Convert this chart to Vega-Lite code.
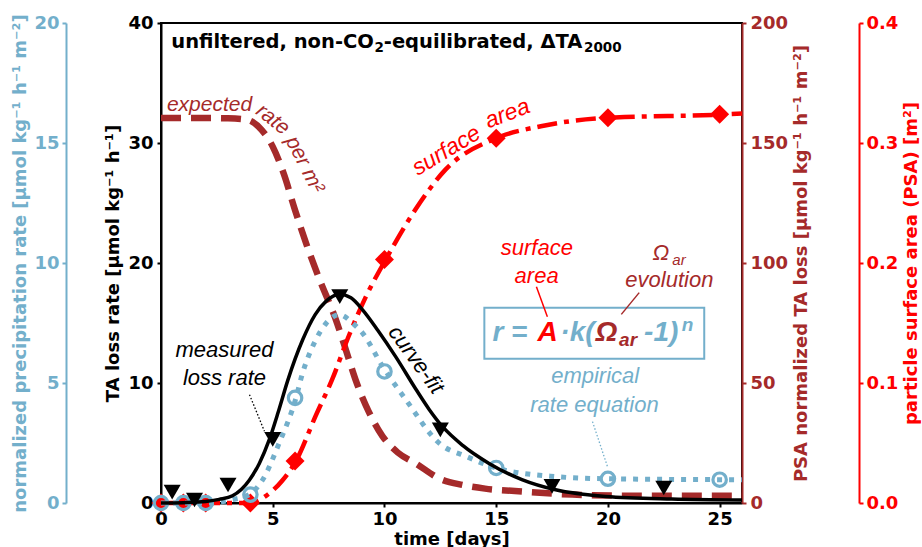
{
  "$schema": "https://vega.github.io/schema/vega-lite/v6.json",
  "width": 581,
  "height": 480,
  "autosize": {"type": "none"},
  "padding": {"left": 161, "top": 23, "right": 180, "bottom": 44},
  "config": {
    "view": {"stroke": "black", "strokeWidth": 2},
    "axis": {
      "grid": false, "labelFont": "DejaVu Sans", "labelFontWeight": "bold", "labelFontSize": 18,
      "titleFont": "DejaVu Sans", "titleFontWeight": "bold", "titleFontSize": 18,
      "tickSize": 4, "tickWidth": 2, "domainWidth": 2, "labelPadding": 3, "labelFlush": false,
      "domainColor": "black", "tickColor": "black", "labelColor": "black", "titleColor": "black"
    }
  },
  "encoding": {
    "x": {"field": "day", "type": "quantitative", "scale": {"domain": [0, 26], "nice": false},
      "axis": {"title": "time [days]", "values": [0, 5, 10, 15, 20, 25], "titlePadding": 2, "labelPadding": 3}}
  },
  "resolve": {"scale": {"y": "independent"}},
  "layer": [
    {
      "encoding": {
        "y": {"field": "p", "type": "quantitative", "scale": {"domain": [0, 200], "nice": false},
          "axis": {"orient": "right", "offset": 0, "title": "PSA normalized TA loss [µmol kg⁻¹ h⁻¹ m⁻²]",
            "values": [0, 50, 100, 150, 200], "titleAngle": 270, "titleBaseline": "top", "titlePadding": 5, "labelPadding": 4,
            "domainColor": "#A52A2A", "tickColor": "#A52A2A", "labelColor": "#A52A2A", "titleColor": "#A52A2A"}}
      },
      "layer": [
        {
          "data": {"values": [
            {"day": 0, "p": 160.4}, {"day": 1, "p": 160.4}, {"day": 2, "p": 160.4}, {"day": 3, "p": 160.3},
            {"day": 3.8, "p": 159.8}, {"day": 4.5, "p": 155.5}, {"day": 5.0, "p": 148.5}, {"day": 5.5, "p": 137},
            {"day": 6.0, "p": 122}, {"day": 6.5, "p": 108}, {"day": 7.1, "p": 93}, {"day": 7.8, "p": 77},
            {"day": 8.3, "p": 63}, {"day": 8.7, "p": 51.5}, {"day": 9.3, "p": 38}, {"day": 9.9, "p": 28},
            {"day": 10.6, "p": 21}, {"day": 11.4, "p": 16.5}, {"day": 12.5, "p": 10}, {"day": 13.5, "p": 7.5},
            {"day": 14.5, "p": 6}, {"day": 16.15, "p": 4.8}, {"day": 18.4, "p": 3.5}, {"day": 21.4, "p": 3.0},
            {"day": 26, "p": 3.0}
          ]},
          "mark": {"type": "line", "color": "#A52A2A", "strokeWidth": 6.5, "strokeDash": [20, 10], "interpolate": "monotone"}
        }
      ]
    },
    {
      "encoding": {
        "y": {"field": "a", "type": "quantitative", "scale": {"domain": [0, 0.4], "nice": false},
          "axis": {"orient": "right", "offset": 117, "title": "particle surface area (PSA) [m²]",
            "values": [0, 0.1, 0.2, 0.3, 0.4], "format": ".1f", "titleAngle": 270, "titleBaseline": "top", "titlePadding": 5, "labelPadding": 3,
            "domainColor": "#FF0000", "tickColor": "#FF0000", "labelColor": "#FF0000", "titleColor": "#FF0000"}}
      },
      "layer": [
        {
          "data": {"values": [
            {"day": 0, "a": 0}, {"day": 1, "a": 0}, {"day": 2, "a": 0}, {"day": 3, "a": 0}, {"day": 4, "a": 0},
            {"day": 4.7, "a": 0.006}, {"day": 5.44, "a": 0.019}, {"day": 6.04, "a": 0.035}, {"day": 6.93, "a": 0.073},
            {"day": 7.66, "a": 0.103}, {"day": 8.42, "a": 0.14}, {"day": 9.17, "a": 0.172}, {"day": 10.06, "a": 0.203},
            {"day": 11.4, "a": 0.245}, {"day": 12.74, "a": 0.278}, {"day": 15.0, "a": 0.304}, {"day": 17.0, "a": 0.314},
            {"day": 20, "a": 0.321}, {"day": 25, "a": 0.3236}, {"day": 26, "a": 0.3245}
          ]},
          "mark": {"type": "line", "color": "#FF0000", "strokeWidth": 4.5, "strokeDash": [20, 7, 5, 7], "interpolate": "monotone"}
        },
        {
          "data": {"values": [
            {"day": 0, "a": 0}, {"day": 1, "a": 0}, {"day": 2, "a": 0}, {"day": 4, "a": 0}, {"day": 6, "a": 0.035},
            {"day": 10, "a": 0.203}, {"day": 15, "a": 0.304}, {"day": 20, "a": 0.321}, {"day": 25, "a": 0.324}
          ]},
          "mark": {"type": "point", "shape": "diamond", "filled": true, "color": "#FF0000", "size": 360, "opacity": 1}
        }
      ]
    },
    {
      "encoding": {
        "y": {"field": "b", "type": "quantitative", "scale": {"domain": [0, 20], "nice": false},
          "axis": {"orient": "left", "offset": 95, "title": "normalized precipitation rate [µmol kg⁻¹ h⁻¹ m⁻²]",
            "values": [0, 5, 10, 15, 20], "titlePadding": 4, "labelPadding": 3,
            "domainColor": "#73AFCB", "tickColor": "#73AFCB", "labelColor": "#73AFCB", "titleColor": "#73AFCB"}}
      },
      "layer": [
        {
          "data": {"values": [
            {"day": 0, "b": 0}, {"day": 2, "b": 0}, {"day": 2.6, "b": 0.03}, {"day": 3.19, "b": 0.14}, {"day": 3.95, "b": 0.35},
            {"day": 4.55, "b": 0.97}, {"day": 5.29, "b": 2.5}, {"day": 6.04, "b": 4.38}, {"day": 6.3, "b": 5.3},
            {"day": 6.9, "b": 6.75}, {"day": 7.4, "b": 7.5}, {"day": 7.98, "b": 7.85}, {"day": 8.57, "b": 7.5},
            {"day": 9.02, "b": 7.08}, {"day": 9.91, "b": 5.7}, {"day": 10.96, "b": 4.3}, {"day": 12.5, "b": 2.45},
            {"day": 13.64, "b": 1.95}, {"day": 14.98, "b": 1.46}, {"day": 17.66, "b": 1.1}, {"day": 19.95, "b": 1.01},
            {"day": 26, "b": 0.97}
          ]},
          "mark": {"type": "line", "color": "#73AFCB", "strokeWidth": 5, "strokeDash": [5, 7], "interpolate": "monotone"}
        },
        {
          "data": {"values": [
            {"day": 0, "b": 0}, {"day": 1, "b": 0}, {"day": 2, "b": 0}, {"day": 4, "b": 0.35}, {"day": 6, "b": 4.38},
            {"day": 10, "b": 5.48}, {"day": 15, "b": 1.46}, {"day": 20, "b": 1.01}, {"day": 25, "b": 0.97}
          ]},
          "mark": {"type": "point", "shape": "circle", "filled": false, "color": "#73AFCB", "strokeWidth": 3.2, "size": 180, "opacity": 1}
        }
      ]
    },
    {
      "encoding": {
        "y": {"field": "v", "type": "quantitative", "scale": {"domain": [0, 40], "nice": false},
          "axis": {"orient": "left", "offset": 0, "title": "TA loss rate [µmol kg⁻¹ h⁻¹]", "values": [0, 10, 20, 30, 40],
            "titlePadding": 5, "labelPadding": 4}}
      },
      "layer": [
        {
          "data": {"values": [
            {"day": 0, "v": 0}, {"day": 1, "v": 0.03}, {"day": 2, "v": 0.12}, {"day": 2.6, "v": 0.3}, {"day": 3.2, "v": 0.6},
            {"day": 3.95, "v": 1.9}, {"day": 4.4, "v": 3.3}, {"day": 4.85, "v": 5.3}, {"day": 5.25, "v": 7.6},
            {"day": 5.67, "v": 10.2}, {"day": 6.34, "v": 13.6}, {"day": 6.9, "v": 15.7}, {"day": 7.38, "v": 16.8},
            {"day": 7.98, "v": 17.4}, {"day": 8.5, "v": 17.1}, {"day": 9.02, "v": 16.1}, {"day": 9.7, "v": 14.4},
            {"day": 10.5, "v": 12.2}, {"day": 11.4, "v": 9.5}, {"day": 12.0, "v": 7.8}, {"day": 12.58, "v": 6.4},
            {"day": 13.5, "v": 4.8}, {"day": 14.68, "v": 3.3}, {"day": 16.15, "v": 1.95}, {"day": 17.66, "v": 1.1},
            {"day": 19.9, "v": 0.55}, {"day": 22.86, "v": 0.33}, {"day": 26, "v": 0.25}
          ]},
          "mark": {"type": "line", "color": "black", "strokeWidth": 3.5, "interpolate": "monotone"}
        },
        {
          "data": {"values": [
            {"day": 0.5, "v": 0.9}, {"day": 1.5, "v": 0.25}, {"day": 3, "v": 1.5}, {"day": 5, "v": 5.3},
            {"day": 8, "v": 17.2}, {"day": 12.5, "v": 6.1}, {"day": 17.5, "v": 1.38}, {"day": 22.5, "v": 1.25}
          ]},
          "mark": {"type": "point", "shape": "triangle-down", "filled": true, "color": "black", "size": 290, "opacity": 1}
        },
        {
          "data": {"values": [{"day": 14.47, "day2": 24.31, "v": 16.28, "v2": 12.03}]},
          "encoding": {"x2": {"field": "day2"}, "y2": {"field": "v2"}},
          "mark": {"type": "rect", "fill": "white", "fillOpacity": 0, "stroke": "#73AFCB", "strokeWidth": 2}
        },
        {
          "data": {"values": [{"day": 3.96, "day2": 4.63, "v": 9.03, "v2": 5.97}]},
          "encoding": {"x2": {"field": "day2"}, "y2": {"field": "v2"}},
          "mark": {"type": "rule", "color": "black", "strokeWidth": 1.3, "strokeDash": [1.5, 2]}
        },
        {
          "data": {"values": [{"day": 19.31, "day2": 19.98, "v": 6.78, "v2": 3.03}]},
          "encoding": {"x2": {"field": "day2"}, "y2": {"field": "v2"}},
          "mark": {"type": "rule", "color": "#73AFCB", "strokeWidth": 1.3, "strokeDash": [1.5, 2]}
        },
        {
          "data": {"values": [{"day": 16.8, "day2": 17.29, "v": 18.03, "v2": 15.53}]},
          "encoding": {"x2": {"field": "day2"}, "y2": {"field": "v2"}},
          "mark": {"type": "rule", "color": "#FF0000", "strokeWidth": 1.5}
        },
        {
          "data": {"values": [{"day": 21.4, "day2": 20.6, "v": 17.53, "v2": 15.72}]},
          "encoding": {"x2": {"field": "day2"}, "y2": {"field": "v2"}},
          "mark": {"type": "rule", "color": "#A52A2A", "strokeWidth": 1.5}
        },
        {
          "data": {"values": [{"day": 0.46, "v": 37.92, "t": "unfiltered, non-CO"}, {"day": 9.97, "v": 37.92, "t": "-equilibrated, ΔTA"}]},
          "encoding": {"text": {"field": "t"}},
          "mark": {"type": "text", "align": "left", "baseline": "alphabetic", "font": "DejaVu Sans", "fontWeight": "bold", "fontSize": 19.5, "color": "black"}
        },
        {
          "data": {"values": [{"day": 9.55, "v": 37.55, "t": "2"}, {"day": 18.93, "v": 37.55, "t": "2000"}]},
          "encoding": {"text": {"field": "t"}},
          "mark": {"type": "text", "align": "left", "baseline": "alphabetic", "font": "DejaVu Sans", "fontWeight": "bold", "fontSize": 13.5, "color": "black"}
        },
        {
          "data": {"values": [{"day": 2.84, "v": 12.78, "t": "measured"}, {"day": 2.84, "v": 10.44, "t": "loss rate"}]},
          "encoding": {"text": {"field": "t"}},
          "mark": {"type": "text", "align": "center", "baseline": "middle", "font": "Liberation Sans", "fontStyle": "italic", "fontSize": 22, "color": "black"}
        },
        {
          "data": {"values": [{"day": 11.42, "v": 11.94, "t": "curve-fit"}]},
          "encoding": {"text": {"field": "t"}},
          "mark": {"type": "text", "align": "center", "baseline": "middle", "angle": 54, "font": "Liberation Sans", "fontStyle": "italic", "fontSize": 22, "color": "black"}
        },
        {
          "data": {"values": [{"day": 19.43, "v": 10.55, "t": "empirical"}, {"day": 19.4, "v": 8.19, "t": "rate equation"}]},
          "encoding": {"text": {"field": "t"}},
          "mark": {"type": "text", "align": "center", "baseline": "middle", "font": "Liberation Sans", "fontStyle": "italic", "fontSize": 22, "color": "#73AFCB"}
        },
        {
          "data": {"values": [{"day": 2.17, "v": 33.19, "t": "expected"}]},
          "encoding": {"text": {"field": "t"}},
          "mark": {"type": "text", "align": "center", "baseline": "middle", "font": "Liberation Sans", "fontStyle": "italic", "fontSize": 21, "color": "#A52A2A"}
        },
        {
          "data": {"values": [{"day": 5.0, "v": 31.94, "t": "rate"}]},
          "encoding": {"text": {"field": "t"}},
          "mark": {"type": "text", "align": "center", "baseline": "middle", "angle": 38, "font": "Liberation Sans", "fontStyle": "italic", "fontSize": 21, "color": "#A52A2A"}
        },
        {
          "data": {"values": [{"day": 6.42, "v": 28.19, "t": "per m²"}]},
          "encoding": {"text": {"field": "t"}},
          "mark": {"type": "text", "align": "center", "baseline": "middle", "angle": 63, "font": "Liberation Sans", "fontStyle": "italic", "fontSize": 21, "color": "#A52A2A"}
        },
        {
          "data": {"values": [{"day": 12.77, "v": 29.36, "t": "surface"}]},
          "encoding": {"text": {"field": "t"}},
          "mark": {"type": "text", "align": "center", "baseline": "middle", "angle": -31, "font": "Liberation Sans", "fontStyle": "italic", "fontSize": 23, "color": "#FF0000"}
        },
        {
          "data": {"values": [{"day": 15.5, "v": 32.44, "t": "area"}]},
          "encoding": {"text": {"field": "t"}},
          "mark": {"type": "text", "align": "center", "baseline": "middle", "angle": -21, "font": "Liberation Sans", "fontStyle": "italic", "fontSize": 23, "color": "#FF0000"}
        },
        {
          "data": {"values": [{"day": 16.82, "v": 21.25, "t": "surface"}, {"day": 16.81, "v": 18.88, "t": "area"}]},
          "encoding": {"text": {"field": "t"}},
          "mark": {"type": "text", "align": "center", "baseline": "middle", "font": "Liberation Sans", "fontStyle": "italic", "fontSize": 22, "color": "#FF0000"}
        },
        {
          "data": {"values": [{"day": 22.75, "v": 18.61, "t": "evolution"}, {"day": 22.37, "v": 20.83, "t": "Ω"}]},
          "encoding": {"text": {"field": "t"}},
          "mark": {"type": "text", "align": "center", "baseline": "middle", "font": "Liberation Sans", "fontStyle": "italic", "fontSize": 22, "color": "#A52A2A"}
        },
        {
          "data": {"values": [{"day": 23.18, "v": 20.28, "t": "ar"}]},
          "encoding": {"text": {"field": "t"}},
          "mark": {"type": "text", "align": "center", "baseline": "middle", "font": "Liberation Sans", "fontStyle": "italic", "fontSize": 15, "color": "#A52A2A"}
        },
        {
          "data": {"values": [{"day": 14.83, "v": 13.53, "t": "r ="}, {"day": 17.87, "v": 13.53, "t": "·k("}, {"day": 21.62, "v": 13.53, "t": "-1)"}]},
          "encoding": {"text": {"field": "t"}},
          "mark": {"type": "text", "align": "left", "baseline": "alphabetic", "font": "Liberation Sans", "fontStyle": "italic", "fontWeight": "bold", "fontSize": 28, "color": "#73AFCB"}
        },
        {
          "data": {"values": [{"day": 16.85, "v": 13.53, "t": "A"}]},
          "encoding": {"text": {"field": "t"}},
          "mark": {"type": "text", "align": "left", "baseline": "alphabetic", "font": "Liberation Sans", "fontStyle": "italic", "fontWeight": "bold", "fontSize": 28, "color": "#FF0000"}
        },
        {
          "data": {"values": [{"day": 19.44, "v": 13.53, "t": "Ω"}]},
          "encoding": {"text": {"field": "t"}},
          "mark": {"type": "text", "align": "left", "baseline": "alphabetic", "font": "Liberation Sans", "fontStyle": "italic", "fontWeight": "bold", "fontSize": 28, "color": "#A52A2A"}
        },
        {
          "data": {"values": [{"day": 20.5, "v": 13.05, "t": "ar"}]},
          "encoding": {"text": {"field": "t"}},
          "mark": {"type": "text", "align": "left", "baseline": "alphabetic", "font": "Liberation Sans", "fontStyle": "italic", "fontWeight": "bold", "fontSize": 19, "color": "#A52A2A"}
        },
        {
          "data": {"values": [{"day": 23.3, "v": 14.3, "t": "n"}]},
          "encoding": {"text": {"field": "t"}},
          "mark": {"type": "text", "align": "left", "baseline": "alphabetic", "font": "Liberation Sans", "fontStyle": "italic", "fontWeight": "bold", "fontSize": 19, "color": "#73AFCB"}
        }
      ]
    }
  ]
}
